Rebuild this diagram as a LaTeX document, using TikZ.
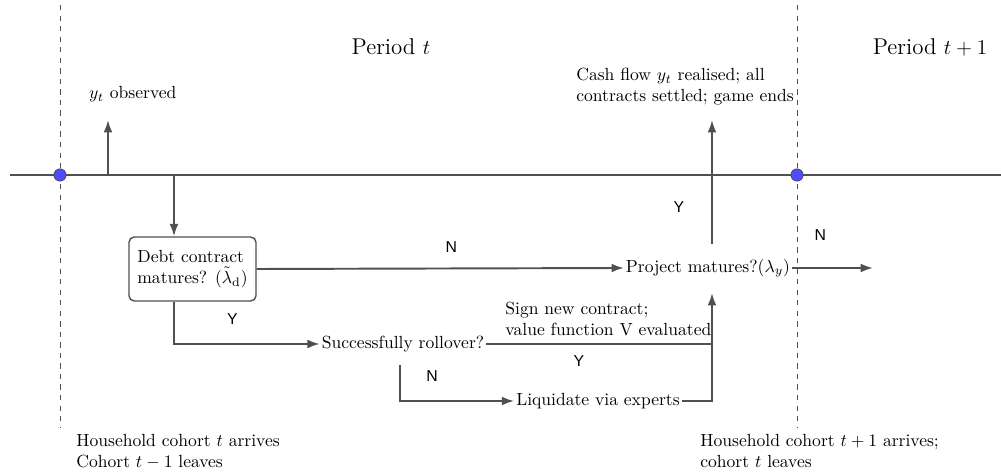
\documentclass[tikz,border=0pt]{standalone}
\usepackage{amsmath}
\usepackage{fontspec}
\usepackage{tikz}
\usetikzlibrary{arrows.meta}
\newfontfamily\ynfont{Liberation Sans}
\definecolor{linegray}{HTML}{505050}
\definecolor{dotblue}{HTML}{4D4DFF}
\tikzset{
	arr/.style={linegray, line width=1.1pt, -{Latex[length=7pt,width=5pt]}},
	ln/.style={linegray, line width=1.1pt},
	debtbox/.style={draw=linegray, line width=0.8pt, rounded corners=3pt, align=left, minimum width=2.54cm, minimum height=1.28cm},
	yn/.style={black, font=\ynfont\fontsize{9}{10.8}\selectfont},
	dot/.style={circle, draw=black!70, fill=dotblue, inner sep=0pt, minimum size=7pt}
}

\begin{document}
\begin{tikzpicture}[x=0.02cm, y=-0.02cm]
	\useasboundingbox (0,0) rectangle (1001,475);
	% timeline and period borders
	\draw[ln] (10,175) -- (1001,175);
	\draw[linegray, dashed, thin] (60,5) -- (60,428);
	\draw[linegray, dashed, thin] (797,5) -- (797,428);
	\node[dot] (p0) at (60,175) {};
	\node[dot] (p1) at (797,175) {};
	\node[font=\fontsize{13}{15.6}\selectfont] (pert) at (391,47) {Period $t$};
	\node[font=\fontsize{13}{15.6}\selectfont] (pertt) at (930,47) {Period $t+1$};

	% nodes
	\node[anchor=west] (obs) at (83,94) {$y_t$ observed};
	\node[debtbox] (debt) at (192.5,269) {Debt contract\\matures? $(\tilde{\lambda}_{\mathrm{d}})$};
	\node[inner sep=1pt] (proj) at (708,268) {Project matures?$(\lambda_y)$};
	\node[inner sep=1pt] (roll) at (403,344) {Successfully rollover?};
	\node[inner sep=1pt] (liq) at (598,401) {Liquidate via experts};
	\node[anchor=north west, align=left, inner sep=0pt] (cash) at (576,68) {Cash flow $y_t$ realised; all\\contracts settled; game ends};
	\node[anchor=south west, align=left, inner sep=0pt] (sign) at (505,336) {Sign new contract;\\value function V evaluated};
	\node[anchor=north west, align=left, inner sep=0pt] (coh) at (76,434) {Household cohort $t$ arrives\\Cohort $t-1$ leaves};
	\node[anchor=north west, align=left, inner sep=0pt] (cohh) at (700,434) {Household cohort $t+1$ arrives;\\cohort $t$ leaves};

	% junctions
	\coordinate (o) at (108,175);
	\coordinate (c) at (174,175);
	\coordinate (j) at (712,344);
	\coordinate (k) at (400,365);
	\coordinate (nend) at (873,268);

	% connectors
	\draw[arr] (o) -- (o |- 0,120);
	\draw[arr] (c) -- (c |- debt.north);
	\draw[arr] (debt.east) -- (proj.west) node[pos=0.53, above=5pt, yn] {N};
	\draw[arr] (proj.east) -- (nend) node[pos=0.35, above=12pt, yn] {N};
	\draw[arr] (j |- 0,244) -- (j |- 0,120) node[pos=0.3, left=12pt, yn] {Y};
	\draw[arr] (c |- debt.south) |- (roll.west) node[pos=0.7, above=7pt, yn] {Y};
	\draw[ln] (roll.east) -- (j) node[pos=0.41, below=3pt, yn] {Y};
	\draw[arr] (j) -- (j |- 0,293);
	\draw[arr] (k) |- (liq.west) node[pos=0.64, above=7pt, yn] {N};
	\draw[ln] (liq.east) -| (j);
\end{tikzpicture}
\end{document}
